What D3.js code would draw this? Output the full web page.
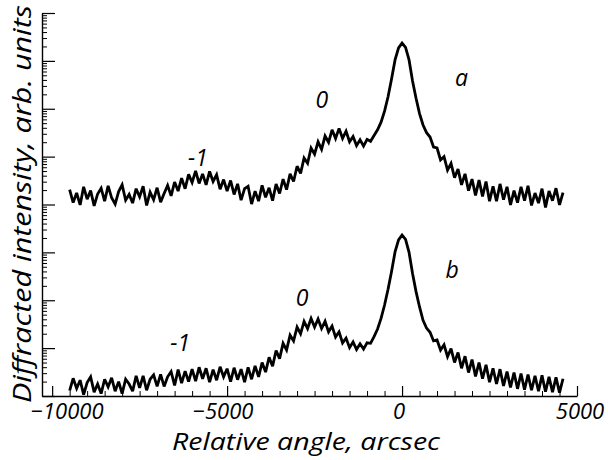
<!DOCTYPE html>
<html><head><meta charset="utf-8">
<script src="https://cdn.jsdelivr.net/npm/d3@7/dist/d3.min.js"></script>
<style>body{margin:0;background:#fff}svg{display:block}</style>
</head><body>
<svg id="chart" width="608" height="460"></svg>
<script>
// Relative angle (arcsec) sampling of both scans
const angles = [
-9500,-9400,-9300,-9200,-9100,-9000,-8900,-8800,-8700,-8600,
-8500,-8400,-8300,-8200,-8100,-8000,-7900,-7800,-7700,-7600,
-7500,-7400,-7300,-7200,-7100,-7000,-6900,-6800,-6700,-6600,
-6500,-6400,-6300,-6200,-6100,-6000,-5900,-5800,-5700,-5600,
-5500,-5400,-5300,-5200,-5100,-5000,-4900,-4800,-4700,-4600,
-4500,-4400,-4300,-4200,-4100,-4000,-3900,-3800,-3700,-3600,
-3500,-3400,-3300,-3200,-3100,-3000,-2900,-2800,-2700,-2600,
-2500,-2400,-2300,-2200,-2100,-2000,-1900,-1800,-1700,-1600,
-1500,-1400,-1300,-1200,-1100,-1000,-900,-800,-700,-600,
-500,-400,-300,-200,-100,0,100,200,300,400,
500,600,700,800,900,1000,1100,1200,1300,1400,
1500,1600,1700,1800,1900,2000,2100,2200,2300,2400,
2500,2600,2700,2800,2900,3000,3100,3200,3300,3400,
3500,3600,3700,3800,3900,4000,4100,4200,4300,4400,
4500,4600];

// log10 of diffracted intensity (arb. units), curve a
const log10IntensityA = [
4.31,4.04,4.24,3.99,4.37,4.11,4.29,3.97,4.22,4.34,4.07,4.39,4.14,4.01,4.27,4.41,4.09,4.21,4.03,4.33,4.16,4.38,3.98,4.26,4.10,4.35,4.05,4.23,4.40,
4.18,4.47,4.28,4.55,4.33,4.63,4.46,4.70,4.44,4.64,4.41,4.69,4.48,4.62,4.32,4.52,4.28,4.50,4.21,4.43,4.09,4.33,
4.38,4.01,4.28,4.07,4.40,4.15,4.35,4.08,4.43,4.23,4.53,4.31,
4.64,4.48,4.80,4.65,4.97,4.86,5.18,5.05,5.31,5.15,5.43,5.30,5.56,5.38,5.59,5.38,5.53,5.31,5.42,5.23,5.35,5.22,5.36,5.32,
5.44,5.56,5.72,5.95,6.25,6.62,7.02,7.27,7.37,7.28,7.02,6.58,6.22,5.90,5.66,5.50,5.41,
5.20,5.18,4.93,5.00,4.72,4.86,4.56,4.74,4.41,4.64,4.29,4.53,4.19,4.51,4.17,4.48,4.07,4.38,4.07,4.43,4.10,4.37,3.99,4.29,4.04,4.37,4.08,4.39,3.98,4.24,4.03,4.33,3.94,4.28,4.08,4.34,3.99,4.25];

// log10 of diffracted intensity (arb. units), curve b
const log10IntensityB = [
0.11,0.37,0.16,0.33,0.03,0.28,0.40,0.08,0.25,0.05,0.35,0.19,0.38,0.10,0.30,
0.05,0.35,0.25,0.10,0.42,0.17,0.42,0.12,0.35,0.44,0.20,0.45,0.20,0.40,0.51,0.22,
0.55,0.27,0.52,0.30,0.56,0.31,0.60,0.36,0.58,0.29,0.55,0.33,0.61,0.40,0.57,0.30,0.59,0.34,0.56,0.29,0.60,0.35,
0.63,0.40,0.70,0.50,0.81,0.62,0.95,0.78,1.10,0.96,1.27,1.15,1.44,1.30,1.56,1.41,1.62,1.44,1.61,1.41,1.56,1.34,1.46,1.23,1.34,1.11,1.21,1.01,1.13,0.97,1.09,0.98,1.11,1.10,
1.24,1.40,1.62,1.90,2.23,2.60,3.01,3.26,3.36,3.27,3.00,2.56,2.18,1.86,1.58,1.42,
1.33,1.15,1.17,0.96,1.07,0.82,0.99,0.70,0.91,0.58,0.83,0.49,0.76,0.41,0.70,0.36,0.65,0.29,0.58,0.25,0.56,0.21,0.51,0.18,0.49,0.15,0.47,0.13,0.45,0.12,0.42,0.10,0.43,0.09,0.40,0.08,0.39,0.07,0.36];

const xTickValues = [-10000, -5000, 0, 5000];
const xTickLabels = ["\u221210000", "\u22125000", "0", "5000"];
const xMinorStep = 500;
const intensityDomain = [1, 1e8];

// peak labels: text, angle (arcsec), log10 intensity
const labelTexts = ["a", "0", "-1", "b", "0", "-1"];
const labelAngles = [1700, -2290, -5830, 1430, -2860, -6340];
const labelLogI = [6.64, 6.18, 4.97, 2.63, 2.05, 1.11];

const xTitle = "Relative angle, arcsec";
const yTitle = "Diffracted intensity, arb. units";

// ---------- drawing ----------
const svg = d3.select("#chart");
svg.append("rect").attr("width", 608).attr("height", 460).attr("fill", "#fff");

const x = d3.scaleLinear().domain([-10290, 5000]).range([42, 577]);
const y = d3.scaleLog().domain(intensityDomain).range([396, 13]);
const FONT = "'Open Sans', 'Noto Sans', sans-serif";

// y axis (log, ticks inward)
const allY = y.ticks();
const majorY = allY.filter(v => Math.abs(Math.log10(v) - Math.round(Math.log10(v))) < 1e-9);
const minorY = allY.filter(v => !majorY.includes(v));
svg.append("g").attr("transform", "translate(42,0)")
  .call(d3.axisRight(y).tickValues(minorY).tickSize(5).tickSizeOuter(0).tickFormat(""))
  .call(g => g.selectAll("line").attr("stroke", "#000").attr("stroke-width", 1))
  .call(g => g.select(".domain").attr("stroke", "#000").attr("stroke-width", 1.4));
svg.append("g").attr("transform", "translate(42,0)")
  .call(d3.axisRight(y).tickValues(majorY).tickSize(13).tickSizeOuter(0).tickFormat(""))
  .call(g => g.select(".domain").remove())
  .call(g => g.selectAll("line").attr("stroke", "#000").attr("stroke-width", 1.2));

// x axis (ticks inward / upward)
const minorX = d3.range(xTickValues[0], xTickValues[xTickValues.length - 1] + 1, xMinorStep)
  .filter(v => !xTickValues.includes(v));
svg.append("g").attr("transform", "translate(0,396)")
  .call(d3.axisTop(x).tickValues(minorX).tickSize(5).tickSizeOuter(0).tickFormat(""))
  .call(g => g.selectAll("line").attr("stroke", "#000").attr("stroke-width", 1))
  .call(g => g.select(".domain").attr("stroke", "#000").attr("stroke-width", 1.4));
svg.append("g").attr("transform", "translate(0,396)")
  .call(d3.axisTop(x).tickValues(xTickValues).tickSize(10).tickSizeOuter(0).tickFormat(""))
  .call(g => g.select(".domain").remove())
  .call(g => g.selectAll("line").attr("stroke", "#000").attr("stroke-width", 1.2));

const labelShift = [15, -4, -3, 3];
svg.append("g").selectAll("text").data(xTickValues).join("text")
  .attr("x", (d, i) => x(d) + labelShift[i])
  .attr("y", 419)
  .attr("text-anchor", "middle")
  .attr("font-family", FONT).attr("font-style", "italic").attr("font-size", 22)
  .attr("fill", "#000")
  .text((d, i) => xTickLabels[i]);

// axis titles
svg.append("text")
  .attr("x", 172).attr("y", 450)
  .attr("font-family", FONT).attr("font-style", "italic").attr("font-size", 23)
  .attr("textLength", 268).attr("lengthAdjust", "spacingAndGlyphs")
  .attr("fill", "#000").text(xTitle);
svg.append("text")
  .attr("transform", "translate(31,403) rotate(-90)")
  .attr("font-family", FONT).attr("font-style", "italic").attr("font-size", 26)
  .attr("textLength", 398).attr("lengthAdjust", "spacingAndGlyphs")
  .attr("fill", "#000").text(yTitle);

// curves
const line = d3.line()
  .x((d, i) => x(angles[i]))
  .y(d => y(Math.pow(10, d)));
[log10IntensityA, log10IntensityB].forEach(series => {
  svg.append("path").datum(series)
    .attr("d", line)
    .attr("fill", "none").attr("stroke", "#000")
    .attr("stroke-width", 2.8).attr("stroke-linejoin", "miter").attr("stroke-miterlimit", 3);
});

// peak labels
svg.append("g").selectAll("text").data(labelTexts).join("text")
  .attr("x", (d, i) => x(labelAngles[i]))
  .attr("y", (d, i) => y(Math.pow(10, labelLogI[i])))
  .attr("dy", "0.35em")
  .attr("text-anchor", "middle")
  .attr("font-family", FONT).attr("font-style", "italic").attr("font-size", 23)
  .attr("fill", "#000")
  .text(d => d);
</script>
</body></html>
